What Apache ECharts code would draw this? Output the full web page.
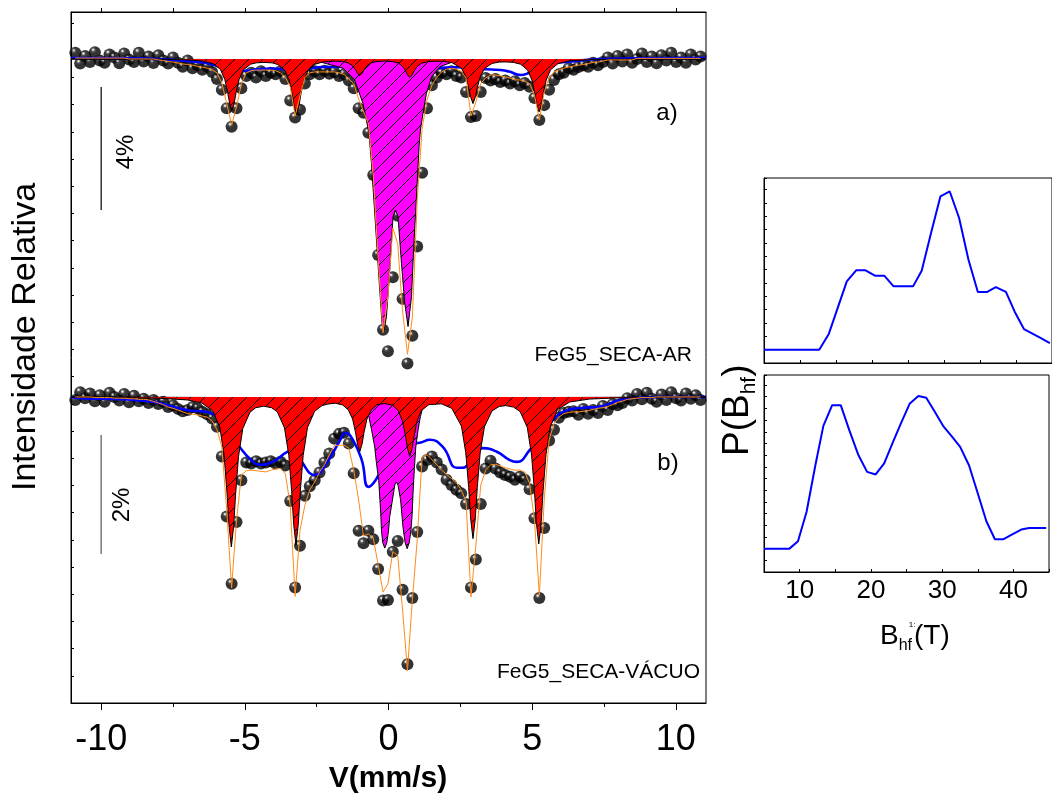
<!DOCTYPE html>
<html>
<head>
<meta charset="utf-8">
<script src="https://cdn.jsdelivr.net/npm/echarts@6/dist/echarts.min.js"></script>
<style>
  html, body { margin: 0; padding: 0; background: #fff; }
  #chart { width: 1052px; height: 800px; }
</style>
</head>
<body>
<div id="chart"></div>
<script>
// ---- Mössbauer spectra: channel calibration (mm/s) ----
const vStart = -10.9;
const vStep = 0.17;

// a) FeG5_SECA-AR : measured absorption (%) per channel
const dataA = [
  -0.2, 0.15, -0.1, 0.1, -0.22, 0.05, 0.12, -0.15, -0.05, 0.14, -0.18, 0.02, 0.1, -0.2, 0.08, -0.08, 0.13, -0.12, 0.05, 0.15, -0.05, 0.12, 0.25, 0.05,
  0.3, 0.2, 0.35, 0.25, 0.42, 0.65, 1.0, 1.6, 2.2, 1.6, 0.95, 0.55,
  0.45, 0.6, 0.4, 0.55, 0.45, 0.5, 0.4, 0.65, 1.35, 1.9, 1.65, 0.8,
  0.5, 0.4, 0.5, 0.38, 0.48, 0.42, 0.55, 0.5, 0.7, 0.95, 1.6, 1.75,
  2.4, 3.77, 6.37, 8.8, 9.5, 7.1, 5.1, 7.8, 9.9, 9.0, 6.1, 3.7,
  1.6, 0.85, 0.6, 0.45, 0.5, 0.4, 0.55, 0.6, 1.07, 1.89, 1.85, 1.07,
  0.62, 0.7, 0.65, 0.75, 0.7, 0.8, 0.72, 0.85, 0.78, 0.9, 1.27, 1.98,
  1.5, 1.0, 0.68, 0.5, 0.45, 0.3, 0.35, 0.26, 0.2, 0.25, 0.12, 0.2,
  0.1, -0.05, 0.15, -0.1, 0.08, -0.15, 0.12, 0.0, -0.18, 0.1, -0.08, 0.14, -0.12, 0.05, -0.2, 0.1, -0.05, 0.12, -0.15, 0.02, -0.08
];
// a) total fit per channel
const fitA = [
  -0.03, -0.03, -0.03, -0.03, -0.03, -0.03, -0.03, -0.03, -0.03, -0.03, -0.03,
  0, 0, 0, 0, 0, 0,
  0.03, 0.05, 0.08, 0.1, 0.13, 0.16, 0.18,
  0.2, 0.24, 0.26, 0.3, 0.35, 0.45, 0.78, 1.45, 2.15, 1.55, 0.8, 0.45,
  0.38, 0.36, 0.36, 0.36, 0.36, 0.38, 0.45, 0.6, 0.9, 1.85, 1.2, 0.6,
  0.45, 0.42, 0.42, 0.42, 0.42, 0.42, 0.45, 0.5, 0.65, 0.8, 1.3, 1.7,
  2.1, 3.8, 6.5, 8.9, 7.7, 5.5, 6.0, 8.2, 9.6, 8.4, 4.6, 2.25,
  1.33, 0.85, 0.6, 0.42, 0.33, 0.3, 0.33, 0.4, 0.62, 1.85, 1.4, 0.8,
  0.62, 0.52, 0.52, 0.55, 0.58, 0.62, 0.68, 0.68, 0.72, 0.8, 1.17, 1.98,
  1.07, 0.62, 0.42, 0.36, 0.3, 0.26, 0.23, 0.2, 0.18, 0.15, 0.11, 0.1,
  0.07, 0.03, 0.03, 0.03, 0.03, 0.03, 0.03,
  -0.02, -0.02, -0.02, -0.02, -0.02, -0.02, -0.02, -0.02, -0.02, -0.02, -0.02, -0.02, -0.02, -0.02
];
// a) sextet component [v, absorption %]
const sextetA = [
  [-11.05, 0], [-8, 0.01], [-7, 0.03], [-6.5, 0.065], [-6.1, 0.15], [-5.85, 0.34], [-5.7, 0.66], [-5.6, 1.07], [-5.53, 1.44], [-5.45, 1.67],
  [-5.37, 1.44], [-5.3, 1.07], [-5.2, 0.67], [-5.05, 0.35], [-4.8, 0.17], [-4.6, 0.125], [-4.33, 0.11], [-4.05, 0.126], [-3.85, 0.18],
  [-3.6, 0.375], [-3.45, 0.71], [-3.35, 1.15], [-3.28, 1.55], [-3.2, 1.79], [-3.12, 1.55], [-3.05, 1.15], [-2.95, 0.71], [-2.8, 0.37],
  [-2.55, 0.17], [-2.3, 0.1], [-2.1, 0.08], [-1.85, 0.07], [-1.6, 0.08], [-1.4, 0.13], [-1.25, 0.22], [-1.15, 0.35], [-1.08, 0.465],
  [-1.0, 0.54], [-0.92, 0.465], [-0.85, 0.35], [-0.75, 0.22], [-0.6, 0.125], [-0.4, 0.08], [-0.13, 0.067], [0.15, 0.085], [0.34, 0.13],
  [0.49, 0.24], [0.59, 0.38], [0.66, 0.51], [0.74, 0.6], [0.82, 0.52], [0.89, 0.39], [0.99, 0.25], [1.14, 0.14], [1.4, 0.08], [1.84, 0.07],
  [2.2, 0.115], [2.54, 0.3], [2.69, 0.57], [2.79, 0.93], [2.86, 1.24], [2.94, 1.45], [3.02, 1.24], [3.09, 0.93], [3.19, 0.58], [3.34, 0.31],
  [3.6, 0.145], [3.85, 0.1], [4.09, 0.095], [4.35, 0.11], [4.6, 0.17], [4.84, 0.36], [4.99, 0.68], [5.09, 1.1], [5.16, 1.48], [5.24, 1.72],
  [5.32, 1.48], [5.39, 1.1], [5.49, 0.68], [5.64, 0.35], [5.9, 0.15], [6.3, 0.06], [7, 0.025], [8, 0.01], [11.05, 0]
];
// a) doublet component
const doubletA = [
  [-11.05, 0], [-5, 0.02], [-3.5, 0.04], [-2.4, 0.09], [-1.58, 0.3], [-1.18, 0.68], [-0.89, 1.44], [-0.68, 2.4], [-0.594, 3.39],
  [-0.479, 5.02], [-0.385, 6.37], [-0.305, 7.51], [-0.225, 8.6], [-0.155, 8.81], [-0.071, 8.38], [0.044, 6.86], [0.158, 5.13],
  [0.242, 4.91], [0.332, 5.13], [0.451, 6.64], [0.566, 7.94], [0.68, 8.7], [0.8, 7.73], [0.879, 6.1], [0.973, 4.48], [1.064, 2.85],
  [1.11, 2.31], [1.2, 1.77], [1.32, 1.12], [1.5, 0.58], [1.79, 0.25], [2.25, 0.09], [3.5, 0.04], [5, 0.02], [11.05, 0]
];
// a) hyperfine-field distribution component
const distA = [
  [-11.05, -0.03], [-9, -0.02], [-7.5, 0.03], [-6.7, 0.09], [-6.2, 0.16], [-5.9, 0.25], [-5.5, 0.35], [-5.0, 0.38], [-4.5, 0.33],
  [-4.0, 0.31], [-3.6, 0.34], [-3.2, 0.38], [-2.8, 0.32], [-2.3, 0.26], [-1.8, 0.25], [-1.3, 0.3], [-0.8, 0.38], [0, 0.42], [0.8, 0.4],
  [1.5, 0.33], [2.0, 0.28], [2.4, 0.27], [2.9, 0.32], [3.4, 0.335], [3.9, 0.36], [4.2, 0.41], [4.6, 0.52], [4.9, 0.45], [5.3, 0.3],
  [5.7, 0.14], [6.3, 0.09], [7.2, 0.01], [8.5, -0.02], [11.05, -0.03]
];

// b) FeG5_SECA-VÁCUO : measured absorption (%) per channel
const dataB = [
  0.05, -0.08, 0.02, -0.06, 0.07, -0.03, 0.08, -0.07, 0.0, 0.06, -0.05, 0.09, -0.02, 0.07, 0.03, 0.1,
  0.05, 0.12, 0.08, 0.17, 0.14, 0.2, 0.24, 0.22, 0.17, 0.19, 0.25, 0.29, 0.36,
  0.5, 1.0, 2.01, 3.14, 2.1, 1.4, 1.1,
  1.12, 1.08, 1.12, 1.1, 1.08, 1.12, 1.09, 1.15,
  1.75, 3.2, 2.5, 1.66, 1.5, 1.4, 1.27, 1.1, 0.95,
  0.7, 0.62, 0.6, 0.78, 1.28, 2.25, 2.46, 2.25,
  2.39, 2.89, 3.42, 3.41, 2.6, 2.42, 3.24, 4.49, 3.38, 2.27,
  1.17, 1.06, 1.0, 1.1, 1.22, 1.39, 1.48, 1.56, 1.62, 1.8,
  3.2, 2.73, 1.8, 1.2, 1.07, 1.2, 1.27, 1.31, 1.34, 1.39, 1.34, 1.39, 1.55, 2.04, 3.38, 2.2,
  0.73, 0.55, 0.35, 0.27, 0.25, 0.24, 0.3, 0.2, 0.28, 0.22, 0.27, 0.15, 0.22, 0.12, 0.14, 0.1, 0.02,
  0.06, -0.05, 0.04, -0.07, 0.03, 0.08, -0.04, 0.05, -0.08, 0.02, 0.06, -0.06, 0.03, -0.03, 0.05
];
// b) total fit per channel
const fitB = [
  0, 0, 0, 0, 0.01, 0.01, 0.01, 0.01, 0.02, 0.02, 0.02, 0.03, 0.03, 0.04, 0.04, 0.05,
  0.075, 0.1, 0.13, 0.17, 0.19, 0.22, 0.25, 0.28, 0.29, 0.3, 0.32, 0.34, 0.4,
  0.55, 0.84, 1.9, 3.21, 2.07, 1.31, 1.24,
  1.23, 1.24, 1.25, 1.26, 1.23, 1.21, 1.2, 1.29,
  1.82, 3.35, 2.24, 1.82, 1.56, 1.43, 1.26, 1.14, 0.97,
  0.82, 0.81, 0.81, 0.86, 1.23, 1.73, 2.34, 2.3,
  2.37, 2.82, 3.28, 3.14, 2.6, 2.66, 3.58, 4.6, 3.41, 2.4,
  1.01, 0.97, 1.05, 1.14, 1.23, 1.3, 1.37, 1.44, 1.56, 1.76,
  3.36, 2.5, 1.48, 1.23, 1.14, 1.13, 1.16, 1.19, 1.21, 1.23, 1.23, 1.26, 1.45, 2.07, 3.33, 1.73,
  0.72, 0.45, 0.34, 0.28, 0.26, 0.25, 0.25, 0.24, 0.23, 0.21, 0.19, 0.18, 0.16, 0.13, 0.09, 0.07, 0.04,
  0.03, 0.02, 0.01, 0.01, 0.01, 0, 0, 0, 0, 0, 0, 0, 0, 0, 0
];
// b) sextet component
const sextetB = [
  [-11.05, 0], [-8, 0.02], [-7, 0.05], [-6.5, 0.1], [-6.12, 0.23], [-5.87, 0.51], [-5.72, 0.99], [-5.62, 1.62], [-5.55, 2.17], [-5.47, 2.52],
  [-5.39, 2.18], [-5.32, 1.63], [-5.22, 1.0], [-5.07, 0.53], [-4.82, 0.255], [-4.62, 0.18], [-4.345, 0.155], [-4.07, 0.18], [-3.87, 0.25],
  [-3.62, 0.52], [-3.47, 0.98], [-3.37, 1.59], [-3.3, 2.14], [-3.22, 2.49], [-3.14, 2.14], [-3.07, 1.59], [-2.97, 0.985], [-2.82, 0.515],
  [-2.57, 0.24], [-2.32, 0.146], [-2.11, 0.118], [-1.85, 0.105], [-1.6, 0.133], [-1.4, 0.215], [-1.25, 0.37], [-1.15, 0.59], [-1.08, 0.79],
  [-1.0, 0.92], [-0.92, 0.79], [-0.85, 0.59], [-0.75, 0.37], [-0.6, 0.215], [-0.4, 0.13], [-0.13, 0.11], [0.14, 0.14], [0.34, 0.23],
  [0.49, 0.41], [0.59, 0.65], [0.66, 0.86], [0.74, 1.0], [0.82, 0.87], [0.89, 0.66], [0.99, 0.41], [1.14, 0.23], [1.4, 0.13], [1.84, 0.115],
  [2.2, 0.19], [2.54, 0.49], [2.69, 0.94], [2.79, 1.52], [2.86, 2.05], [2.94, 2.38], [3.02, 2.05], [3.09, 1.52], [3.19, 0.94], [3.34, 0.5],
  [3.6, 0.235], [3.85, 0.16], [4.08, 0.145], [4.35, 0.17], [4.58, 0.245], [4.83, 0.51], [4.98, 0.975], [5.08, 1.59], [5.15, 2.13], [5.23, 2.47],
  [5.31, 2.13], [5.38, 1.58], [5.48, 0.97], [5.63, 0.5], [5.88, 0.215], [6.3, 0.085], [7, 0.035], [8, 0.015], [11.05, 0]
];
// b) doublet component
const doubletB = [
  [-11.05, 0], [-5, 0.01], [-2.5, 0.03], [-1.3, 0.05], [-0.9, 0.07], [-0.77, 0.11], [-0.71, 0.27], [-0.59, 0.55], [-0.48, 0.84],
  [-0.42, 1.11], [-0.34, 1.4], [-0.305, 1.68], [-0.27, 1.96], [-0.245, 2.24], [-0.2, 2.45], [-0.13, 2.54], [-0.06, 2.45], [0.0, 2.25],
  [0.043, 2.01], [0.1375, 1.73], [0.218, 1.48], [0.275, 1.43], [0.332, 1.48], [0.42, 1.73], [0.507, 2.2], [0.58, 2.45], [0.65, 2.55],
  [0.72, 2.45], [0.78, 2.25], [0.82, 2.0], [0.855, 1.6], [0.9, 1.2], [0.95, 0.84], [1.03, 0.55], [1.11, 0.33], [1.2, 0.16], [1.32, 0.08],
  [1.6, 0.05], [2.5, 0.03], [5, 0.01], [11.05, 0]
];
// b) hyperfine-field distribution component
const distB = [
  [-11.05, 0], [-10.74, 0.02], [-9.13, 0.04], [-8.2, 0.08], [-7.73, 0.13], [-7.03, 0.22], [-6.34, 0.25], [-6.05, 0.3], [-5.87, 0.39],
  [-5.5, 0.62], [-5.18, 0.84], [-4.8, 1.05], [-4.48, 1.14], [-4.03, 1.09], [-3.51, 0.92], [-3.2, 0.88], [-2.99, 1.11], [-2.57, 1.31],
  [-2.15, 1.11], [-1.7, 0.74], [-1.49, 0.6], [-1.24, 0.72], [-0.93, 1.06], [-0.7, 1.51], [-0.44, 1.39], [0, 1.0], [0.5, 0.8], [1.09, 0.77],
  [1.44, 0.72], [1.89, 0.84], [2.38, 1.19], [2.58, 1.19], [2.83, 1.09], [3.05, 0.95], [3.28, 0.86], [3.77, 0.92], [4.22, 1.06], [4.47, 1.09],
  [4.92, 0.89], [5.2, 0.7], [5.72, 0.39], [6.07, 0.25], [6.76, 0.18], [7.25, 0.17], [8.05, 0.05], [8.4, 0.02], [9.5, 0], [11.05, 0]
];

// Scale bars (absorption %)
const barA = [[-10, 0.91], [-10, 4.91]];   // 4 %
const barB = [[-10, 0.64], [-10, 2.64]];   // 2 %

// Hyperfine field distributions P(Bhf) [T, arb. units]
const pBhfA = [
  [5.0, 1.0], [12.67, 1.0], [14.0, 2.18], [16.5, 6.12], [17.8, 6.95], [19.1, 6.95], [20.4, 6.55], [21.7, 6.55], [23.0, 5.75], [25.7, 5.75],
  [26.9, 6.92], [28.2, 9.75], [29.5, 12.5], [30.8, 12.87], [32.1, 10.88], [33.4, 7.75], [34.7, 5.33], [36.0, 5.33], [37.2, 5.7], [38.6, 5.33],
  [39.8, 3.87], [41.1, 2.55], [43.4, 1.88], [44.7, 1.5]
];
const pBhfB = [
  [5.0, 2.0], [8.57, 2.0], [9.77, 2.63], [10.97, 5.14], [12.21, 9.14], [13.33, 12.51], [14.57, 14.28], [15.77, 14.28], [16.97, 12.14],
  [18.21, 10.06], [19.47, 8.57], [20.67, 8.35], [21.87, 9.29], [23.11, 11.14], [24.31, 12.85], [25.47, 14.43], [26.67, 15.06], [27.77, 14.91],
  [28.97, 13.71], [30.13, 12.51], [31.33, 11.63], [32.53, 10.71], [33.77, 9.14], [35.01, 6.72], [36.21, 4.34], [37.41, 2.8], [38.57, 2.8],
  [39.77, 3.2], [41.11, 3.63], [42.21, 3.77], [43.37, 3.77], [44.6, 3.77]
];

const majorV = [-10, -5, 0, 5, 10];
const minorV = [-7.5, -2.5, 2.5, 7.5];

const FONT = '"Liberation Sans", Arial, Helvetica, sans-serif';

function withVelocity(arr) {
  return arr.map((a, i) => [+(vStart + i * vStep).toFixed(3), a]);
}

function hatch(fill) {
  const s = 14;
  const c = document.createElement('canvas');
  c.width = s; c.height = s;
  const g = c.getContext('2d');
  g.fillStyle = fill;
  g.fillRect(0, 0, s, s);
  g.strokeStyle = '#000';
  g.lineWidth = 1;
  g.beginPath();
  g.moveTo(0, s); g.lineTo(s, 0);
  g.moveTo(-2, 2); g.lineTo(2, -2);
  g.moveTo(s - 2, s + 2); g.lineTo(s + 2, s - 2);
  g.stroke();
  return { image: c, repeat: 'repeat' };
}

// glossy black bead
const sphere = new echarts.graphic.RadialGradient(0.36, 0.3, 0.7, [
  { offset: 0, color: '#ffffff' },
  { offset: 0.1, color: '#bcbcbc' },
  { offset: 0.22, color: '#262626' },
  { offset: 0.45, color: '#000000' },
  { offset: 1, color: '#000000' }
]);

const mctx = document.createElement('canvas').getContext('2d');
function textWidth(t, font) { mctx.font = font; return mctx.measureText(t).width; }

function areaSeries(data, yIdx, fill, z) {
  return {
    type: 'line', xAxisIndex: 0, yAxisIndex: yIdx, data, symbol: 'none', silent: true, z,
    lineStyle: { color: '#000', width: 1 },
    areaStyle: { color: hatch(fill), opacity: 1 }
  };
}
function lineSeries(data, yIdx, color, width, z, smooth) {
  return {
    type: 'line', xAxisIndex: 0, yAxisIndex: yIdx, data, symbol: 'none', silent: true, z,
    smooth: smooth || false,
    lineStyle: { color, width }
  };
}
function dotSeries(data, yIdx) {
  return {
    type: 'scatter', xAxisIndex: 0, yAxisIndex: yIdx, data, symbol: 'circle', symbolSize: 12, silent: true, z: 2,
    itemStyle: { color: sphere }
  };
}

// rotated P(Bhf) label
const fBig = '37px ' + FONT, fSub = '21px ' + FONT;
const wP = textWidth('P(B', fBig), wHf = textWidth('hf', fSub);
const pLabel = {
  type: 'group', x: 738, y: 456, rotation: Math.PI / 2,
  children: [
    { type: 'text', x: 0, y: 0, style: { text: 'P(B', font: fBig, fill: '#000', align: 'left', verticalAlign: 'middle' } },
    { type: 'text', x: wP, y: 11, style: { text: 'hf', font: fSub, fill: '#000', align: 'left', verticalAlign: 'middle' } },
    { type: 'text', x: wP + wHf, y: 0, style: { text: ')', font: fBig, fill: '#000', align: 'left', verticalAlign: 'middle' } }
  ]
};
const fB = '28px ' + FONT, fBs = '16px ' + FONT;
const wB = textWidth('B', fB), wBs = textWidth('hf', fBs);
const bLabel = {
  type: 'group', x: 880, y: 636,
  children: [
    { type: 'text', x: 0, y: 0, style: { text: 'B', font: fB, fill: '#000', align: 'left', verticalAlign: 'middle' } },
    { type: 'text', x: wB, y: 10, style: { text: 'hf', font: fBs, fill: '#000', align: 'left', verticalAlign: 'middle' } },
    { type: 'text', x: wB + 10, y: -11, style: { text: '1:', font: '8px ' + FONT, fill: '#000', align: 'left', verticalAlign: 'middle' } },
    { type: 'text', x: wB + wBs + 2, y: 0, style: { text: '(T)', font: fB, fill: '#000', align: 'left', verticalAlign: 'middle' } }
  ]
};

function txt(x, y, text, size, opts) {
  opts = opts || {};
  return {
    type: 'text', x, y, rotation: opts.rot || 0,
    style: {
      text, font: (opts.bold ? 'bold ' : '') + size + 'px ' + FONT, fill: opts.color || '#000',
      align: opts.align || 'center', verticalAlign: 'middle'
    }
  };
}

const axisBlack = { onZero: false, lineStyle: { color: '#000', width: 1 } };
const tickIn = { inside: true, length: 3, lineStyle: { color: '#000' } };

const option = {
  animation: false,
  backgroundColor: '#fff',
  grid: [
    { left: 71, top: 12, width: 635, height: 691, show: true, borderColor: '#000', borderWidth: 1, backgroundColor: 'transparent' },
    { left: 764, top: 178, width: 300, height: 185, show: true, borderColor: '#000', borderWidth: 1, backgroundColor: 'transparent' },
    { left: 764, top: 375, width: 300, height: 197, show: true, borderColor: '#000', borderWidth: 1, backgroundColor: 'transparent' }
  ],
  xAxis: [
    {
      gridIndex: 0, type: 'value', min: -11.05, max: 11.05, position: 'bottom',
      axisLine: axisBlack,
      axisTick: { customValues: majorV, length: 7, lineStyle: { color: '#000' } },
      axisLabel: { customValues: majorV, fontSize: 36, fontFamily: FONT, color: '#000', margin: 19 },
      splitLine: { show: false }
    },
    {
      gridIndex: 0, type: 'value', min: -11.05, max: 11.05, position: 'bottom',
      axisLine: { show: false, onZero: false },
      axisTick: { customValues: minorV, length: 4, lineStyle: { color: '#000' } },
      axisLabel: { show: false }, splitLine: { show: false }
    },
    {
      gridIndex: 0, type: 'value', min: -11.05, max: 11.05, position: 'top',
      axisLine: axisBlack,
      axisTick: { customValues: majorV.concat(minorV), length: 4, lineStyle: { color: '#000' } },
      axisLabel: { show: false }, splitLine: { show: false }
    },
    {
      gridIndex: 1, type: 'value', min: 5, max: 45, interval: 5,
      axisLine: axisBlack, axisTick: tickIn,
      axisLabel: { show: false }, splitLine: { show: false }
    },
    {
      gridIndex: 2, type: 'value', min: 5, max: 45, interval: 5,
      axisLine: axisBlack, axisTick: tickIn,
      axisLabel: {
        fontSize: 26, fontFamily: FONT, color: '#000', margin: 6,
        formatter: v => (v % 10 === 0 && v < 45 ? String(v) : '')
      },
      splitLine: { show: false }
    }
  ],
  yAxis: [
    { gridIndex: 0, type: 'value', min: -1.528, max: 20.94, inverse: true, show: false, axisLine: { onZero: false } },
    { gridIndex: 0, type: 'value', min: -6.47, max: 5.143, inverse: true, show: false, axisLine: { onZero: false } },
    {
      gridIndex: 0, type: 'value', min: 0, max: 25.404, interval: 1, position: 'left',
      axisLine: axisBlack, axisTick: tickIn,
      axisLabel: { show: false }, splitLine: { show: false }
    },
    {
      gridIndex: 1, type: 'value', min: 0, max: 13.88, interval: 1, position: 'left',
      axisLine: axisBlack, axisTick: tickIn,
      axisLabel: { show: false }, splitLine: { show: false }
    },
    {
      gridIndex: 2, type: 'value', min: 0, max: 16.86, interval: 1, position: 'left',
      axisLine: axisBlack, axisTick: tickIn,
      axisLabel: { show: false }, splitLine: { show: false }
    }
  ],
  series: [
    dotSeries(withVelocity(dataA), 0),
    dotSeries(withVelocity(dataB), 1),
    lineSeries(distA, 0, '#0000ff', 2.6, 3, 0.5),
    lineSeries(distB, 1, '#0000ff', 2.6, 3, 0.5),
    areaSeries(doubletA, 0, '#ff00ff', 4),
    areaSeries(doubletB, 1, '#ff00ff', 4),
    areaSeries(sextetA, 0, '#ff0000', 5),
    areaSeries(sextetB, 1, '#ff0000', 5),
    lineSeries(withVelocity(fitA), 0, '#ff8c1a', 1, 6),
    lineSeries(withVelocity(fitB), 1, '#ff8c1a', 1, 6),
    lineSeries(barA, 0, '#000000', 1.2, 6),
    lineSeries(barB, 1, '#808080', 1.6, 6),
    {
      type: 'line', xAxisIndex: 3, yAxisIndex: 3, data: pBhfA, symbol: 'none', silent: true,
      lineStyle: { color: '#0000ff', width: 2 }
    },
    {
      type: 'line', xAxisIndex: 4, yAxisIndex: 4, data: pBhfB, symbol: 'none', silent: true,
      lineStyle: { color: '#0000ff', width: 2 }
    }
  ],
  graphic: [
    txt(26, 337, 'Intensidade Relativa', 34, { rot: Math.PI / 2 }),
    txt(388, 779, 'V(mm/s)', 30, { bold: true }),
    txt(126, 152, '4%', 24, { rot: Math.PI / 2 }),
    txt(122, 505, '2%', 24, { rot: Math.PI / 2 }),
    txt(667, 113, 'a)', 24),
    txt(668, 463, 'b)', 24),
    txt(692, 355, 'FeG5_SECA-AR', 21, { align: 'right' }),
    txt(700, 672, 'FeG5_SECA-VÁCUO', 21, { align: 'right' }),
    pLabel,
    bLabel
  ]
};

const chart = echarts.init(document.getElementById('chart'), null, { renderer: 'canvas', width: 1052, height: 800 });
chart.setOption(option);
</script>
</body>
</html>
